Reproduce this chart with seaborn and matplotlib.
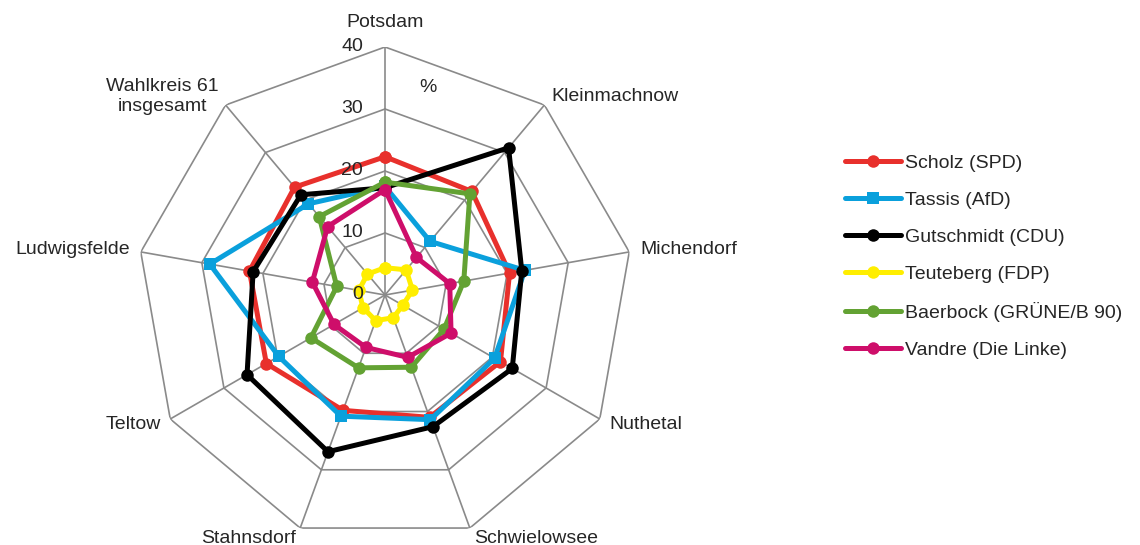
import numpy as np
import pandas as pd
import matplotlib

matplotlib.use("Agg")
import matplotlib.pyplot as plt
import matplotlib.transforms as mtransforms
from matplotlib.lines import Line2D
import seaborn as sns

orte = ["Potsdam", "Kleinmachnow", "Michendorf", "Nuthetal", "Schwielowsee",
        "Stahnsdorf", "Teltow", "Ludwigsfelde", "Wahlkreis 61\ninsgesamt"]

kandidaten = ["Scholz (SPD)", "Tassis (AfD)", "Gutschmidt (CDU)",
              "Teuteberg (FDP)", "Baerbock (GRÜNE/B 90)", "Vandre (Die Linke)"]

scholz = [22.3, 21.8, 20.4, 21.5, 21.0, 19.8, 22.1, 22.2, 22.7]
tassis = [17.5, 11.3, 22.9, 20.4, 21.4, 20.8, 19.8, 28.7, 19.2]
gutschmidt = [17.3, 31.0, 22.4, 23.7, 22.6, 26.9, 25.7, 21.6, 21.1]
teuteberg = [4.4, 5.3, 4.5, 3.3, 3.9, 4.4, 4.1, 4.3, 4.4]
baerbock = [18.2, 21.3, 12.9, 11.0, 12.4, 12.5, 13.8, 7.9, 16.5]
vandre = [17.0, 7.9, 10.6, 12.3, 10.7, 9.0, 9.5, 11.9, 14.4]

werte = [scholz, tassis, gutschmidt, teuteberg, baerbock, vandre]
farben = ["#E8302C", "#0AA0DC", "#000000", "#FFEE00", "#63A233", "#CE0E6A"]
marker = ["o", "s", "o", "o", "o", "o"]
r_ticks = [0, 10, 20, 30, 40]

n = len(orte)
theta = np.pi / 2 - np.arange(n + 1) * 2 * np.pi / n  # closed loop

rows = []
for name, vals in zip(kandidaten, werte):
    for t, v in zip(theta, vals + vals[:1]):
        rows.append({"kandidat": name, "theta": t, "wert": v})
df = pd.DataFrame(rows)

sns.set_theme(style="white")
plt.rcParams["font.family"] = ["Liberation Sans", "DejaVu Sans"]

fig = plt.figure(figsize=(11.4, 5.45), dpi=100)
ax = fig.add_axes([0.12018, 0.00367, 0.4351, 0.9101], projection="polar")
ax.set_ylim(0, 40)
ax.set_xticks([])
ax.set_yticks([])
ax.grid(False)
ax.spines["polar"].set_visible(False)
ax.patch.set_alpha(0)

# polygon grid
grid_col = "#8a8a8a"
for r in r_ticks[1:]:
    ax.plot(theta, [r] * len(theta), color=grid_col, lw=1.2, zorder=1)
for t in theta[:-1]:
    ax.plot([t, t], [0, 40], color=grid_col, lw=1.2, zorder=1)

sns.lineplot(data=df, x="theta", y="wert", hue="kandidat", style="kandidat",
             hue_order=kandidaten, style_order=kandidaten,
             palette=dict(zip(kandidaten, farben)),
             markers=dict(zip(kandidaten, marker)), dashes=False,
             sort=False, estimator=None, lw=3.6, markersize=9,
             markeredgewidth=0, legend=False, ax=ax, zorder=3)
ax.set_xlabel("")
ax.set_ylabel("")
ax.set_ylim(0, 40)

# category labels
for t, lab in zip(theta[:-1], orte):
    c = np.cos(t)
    if abs(c) < 0.01:
        ax.text(t, 44.0, lab, ha="center", va="center", fontsize=14)
    else:
        ha = "left" if c > 0 else "right"
        ax.text(t, 41.8, lab, ha=ha, va="center", fontsize=14,
                multialignment="center")

# radial tick labels
off = mtransforms.offset_copy(ax.transData, fig=fig, x=-22, y=0, units="dots")
for r in r_ticks:
    ax.text(np.pi / 2, r, str(r), ha="right", va="center", fontsize=14,
            transform=off)

fig.text(428 / 1140, 1 - 87 / 545, "%", ha="center", va="center", fontsize=14)

handles = [Line2D([], [], color=f, lw=3.6, marker=m, markersize=9,
                  markeredgewidth=0) for f, m in zip(farben, marker)]
fig.legend(handles, kandidaten, loc="upper left",
           bbox_to_anchor=(845 / 1140, 1 - 154 / 545), frameon=False,
           fontsize=14, handlelength=2.9, handletextpad=0.2,
           labelspacing=1.0, borderpad=0, borderaxespad=0)

fig.savefig("out.png", dpi=100)
